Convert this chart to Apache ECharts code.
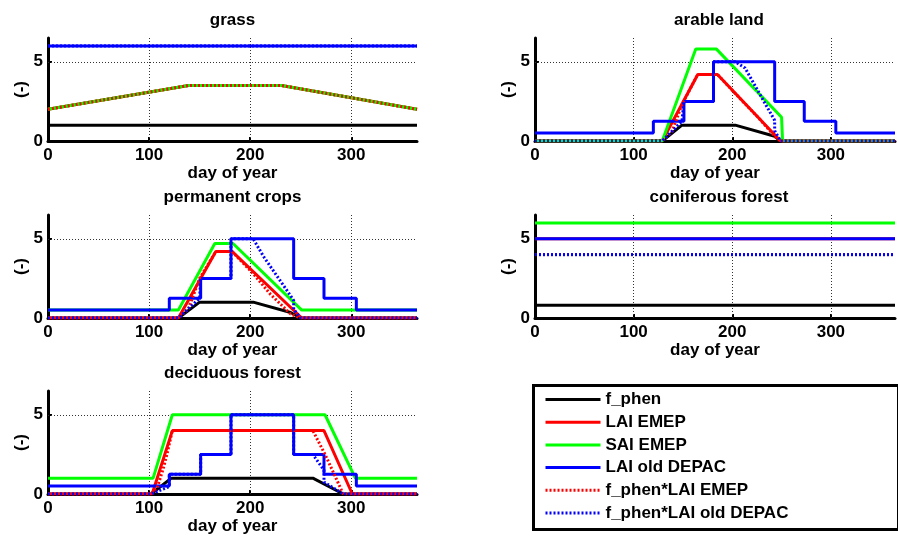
<!DOCTYPE html>
<html>
<head>
<meta charset="utf-8">
<title>phenology per land use</title>
<script src="https://cdn.jsdelivr.net/npm/echarts@6.0.0/dist/echarts.min.js"></script>
<style>
  html, body { margin: 0; padding: 0; background: #fff; }
  #chart { width: 898px; height: 536px; }
</style>
</head>
<body>
<div id="chart"></div>
<script>
// tick values shared by all panels
const xTicks = [0, 100, 200, 300];
const yTicks = [0, 5];

// grass: [day, value]
const grassFPhen = [[0, 1], [365, 1]];
const grassLaiEmep = [[0, 2], [139, 3.5], [231, 3.5], [365, 2]];
const grassSaiEmep = [[0, 2], [139, 3.5], [231, 3.5], [365, 2]];
const grassLaiDepac = [[0, 6], [365, 6]];
const grassFLaiEmep = [[0, 2], [139, 3.5], [231, 3.5], [365, 2]];
const grassFLaiDepac = [[0, 6], [365, 6]];

// arable land
const arableFPhen = [[0, 0], [129, 0], [149, 1], [203, 1], [243, 0.3], [249, 0], [365, 0]];
const arableLaiEmep = [[0, 0], [129, 0], [165, 4.2], [185, 4.2], [249, 0], [365, 0]];
const arableSaiEmep = [[0, 0], [129, 0], [163, 5.8], [184, 5.8], [250, 1.5], [251, 0], [365, 0]];
const arableLaiDepac = [[0, 0.5], [120, 0.5], [120, 1.25], [151, 1.25], [151, 2.5], [181, 2.5], [181, 5],
  [243, 5], [243, 2.5], [273, 2.5], [273, 1.25], [305, 1.25], [305, 0.5], [365, 0.5]];
const arableFLaiEmep = [[0, 0], [129, 0], [139, 0.6], [149, 2.3], [165, 4.2], [185, 4.2], [203, 3.0],
  [226, 1.5], [243, 0.3], [249, 0], [365, 0]];
const arableFLaiDepac = [[0, 0], [129, 0], [149, 1.25], [151, 1.25], [151, 2.5], [181, 2.5], [181, 5],
  [203, 5], [213, 4.6], [243, 1.3], [243, 0.65], [249, 0], [365, 0]];

// permanent crops
const permFPhen = [[0, 0], [129, 0], [150, 1], [203, 1], [240, 0.35], [250, 0], [365, 0]];
const permLaiEmep = [[0, 0], [129, 0], [166, 4.2], [182, 4.2], [251, 0], [365, 0]];
const permSaiEmep = [[0, 0.5], [129, 0.5], [165, 4.7], [183, 4.7], [251, 0.5], [365, 0.5]];
const permLaiDepac = [[0, 0.5], [120, 0.5], [120, 1.25], [151, 1.25], [151, 2.5], [181, 2.5], [181, 5],
  [243, 5], [243, 2.5], [273, 2.5], [273, 1.25], [305, 1.25], [305, 0.5], [365, 0.5]];
const permFLaiEmep = [[0, 0], [129, 0], [139, 0.6], [150, 2.5], [166, 4.2], [182, 4.2], [203, 2.8],
  [220, 1.5], [240, 0.25], [250, 0], [365, 0]];
const permFLaiDepac = [[0, 0], [129, 0], [150, 1.25], [151, 1.25], [151, 2.5], [181, 2.5], [181, 5],
  [203, 5], [213, 3.9], [240, 1.4], [243, 1.1], [243, 0.55], [250, 0], [365, 0]];

// coniferous forest
const conifFPhen = [[0, 0.8], [365, 0.8]];
const conifLaiEmep = [[0, 5], [365, 5]];
const conifSaiEmep = [[0, 6], [365, 6]];
const conifLaiDepac = [[0, 5], [365, 5]];
const conifFLaiEmep = [[0, 4], [365, 4]];
const conifFLaiDepac = [[0, 4], [365, 4]];

// deciduous forest
const decidFPhen = [[0, 0], [102, 0], [122, 1], [262, 1], [292, 0], [365, 0]];
const decidLaiEmep = [[0, 0], [103, 0], [123, 4], [273, 4], [301, 0], [365, 0]];
const decidSaiEmep = [[0, 1], [104, 1], [123, 5], [274, 5], [304, 1], [365, 1]];
const decidLaiDepac = [[0, 0.5], [120, 0.5], [120, 1.25], [151, 1.25], [151, 2.5], [181, 2.5], [181, 5],
  [243, 5], [243, 2.5], [273, 2.5], [273, 1.25], [305, 1.25], [305, 0.5], [365, 0.5]];
const decidFLaiEmep = [[0, 0], [102, 0], [108, 0.4], [114, 1.6], [118, 2.6], [123, 4], [262, 4],
  [274, 2.5], [282, 1.4], [292, 0], [365, 0]];
const decidFLaiDepac = [[0, 0], [102, 0], [120, 0.47], [120, 1.2], [122, 1.25], [151, 1.25], [151, 2.5],
  [181, 2.5], [181, 5], [243, 5], [243, 2.5], [262, 2.5], [273, 1.5], [273, 0.75], [292, 0], [365, 0]];

const seriesNames = ['f_phen', 'LAI EMEP', 'SAI EMEP', 'LAI old DEPAC', 'f_phen*LAI EMEP', 'f_phen*LAI old DEPAC'];
const seriesColors = ['#000000', '#ff0000', '#00ff00', '#0000ff', '#ff0000', '#0000ff'];
const seriesDash = ['solid', 'solid', 'solid', 'solid', [2, 2], [2, 2]];

const panels = [
  {title: 'grass', left: 48, top: 38, width: 369,
    data: [grassFPhen, grassLaiEmep, grassSaiEmep, grassLaiDepac, grassFLaiEmep, grassFLaiDepac]},
  {title: 'arable land', left: 535, top: 38, width: 368,
    data: [arableFPhen, arableLaiEmep, arableSaiEmep, arableLaiDepac, arableFLaiEmep, arableFLaiDepac]},
  {title: 'permanent crops', left: 48, top: 215, width: 369,
    data: [permFPhen, permLaiEmep, permSaiEmep, permLaiDepac, permFLaiEmep, permFLaiDepac]},
  {title: 'coniferous forest', left: 535, top: 215, width: 368,
    data: [conifFPhen, conifLaiEmep, conifSaiEmep, conifLaiDepac, conifFLaiEmep, conifFLaiDepac]},
  {title: 'deciduous forest', left: 48, top: 391, width: 369,
    data: [decidFPhen, decidLaiEmep, decidSaiEmep, decidLaiDepac, decidFLaiEmep, decidFLaiDepac]}
];

const FONT = '"Liberation Sans", Arial, Helvetica, sans-serif';
const PLOT_H = 103;

const titles = [], grids = [], xAxes = [], yAxes = [], series = [];

panels.forEach((p, i) => {
  titles.push({
    text: p.title, left: p.left + p.width / 2, top: p.top - 26, textAlign: 'center', padding: 0,
    textStyle: {fontFamily: FONT, fontSize: 17, fontWeight: 'bold', color: '#000'}
  });
  grids.push({left: p.left, top: p.top, width: p.width, height: PLOT_H});
  xAxes.push({
    type: 'value', gridIndex: i, min: 0, max: 365,
    name: 'day of year', nameLocation: 'middle', nameGap: 24,
    nameTextStyle: {fontFamily: FONT, fontSize: 17, fontWeight: 'bold', color: '#000'},
    axisLine: {show: true, lineStyle: {color: '#000', width: 3}},
    axisTick: {show: true, inside: true, length: 4, customValues: xTicks.slice(1),
      lineStyle: {color: '#000', width: 2}},
    axisLabel: {
      margin: 6, fontFamily: FONT, fontSize: 17, fontWeight: 'bold', color: '#000',
      formatter: v => (xTicks.includes(v) ? String(v) : '')
    },
    splitLine: {show: false}
  });
  yAxes.push({
    type: 'value', gridIndex: i, min: 0, max: 6.5,
    name: '(-)', nameLocation: 'middle', nameGap: 18, nameRotate: 90,
    nameTextStyle: {fontFamily: FONT, fontSize: 17, fontWeight: 'bold', color: '#000'},
    axisLine: {show: true, onZero: false, lineStyle: {color: '#000', width: 3}},
    axisTick: {show: true, inside: true, length: 4, customValues: yTicks.slice(1),
      lineStyle: {color: '#000', width: 2}},
    axisLabel: {
      margin: 5, fontFamily: FONT, fontSize: 17, fontWeight: 'bold', color: '#000',
      formatter: v => (yTicks.includes(v) ? String(v) : '')
    },
    splitLine: {show: false}
  });
  p.data.forEach((d, k) => {
    const s = {
      name: seriesNames[k], type: 'line', xAxisIndex: i, yAxisIndex: i,
      data: d, symbol: 'none', showSymbol: false, animation: false,
      lineStyle: {color: seriesColors[k], width: 3, type: seriesDash[k]},
      itemStyle: {color: seriesColors[k]}
    };
    if (k === 0) {
      // dotted grid lines at the labelled ticks
      s.markLine = {
        silent: true, symbol: ['none', 'none'], label: {show: false}, animation: false, z: 1,
        lineStyle: {color: '#333', width: 1, type: [1, 2]},
        data: xTicks.slice(1).map(v => ({xAxis: v})).concat(yTicks.slice(1).map(v => ({yAxis: v})))
      };
    }
    series.push(s);
  });
});

const chart = echarts.init(document.getElementById('chart'), null, {renderer: 'canvas'});
chart.setOption({
  backgroundColor: '#fff',
  animation: false,
  title: titles,
  grid: grids,
  xAxis: xAxes,
  yAxis: yAxes,
  legend: {
    data: seriesNames, orient: 'vertical', left: 544, top: 391, padding: 0,
    itemWidth: 55, itemHeight: 17, itemGap: 5.7, z: 10,
    itemStyle: {opacity: 0},
    lineStyle: {width: 3},
    textStyle: {fontFamily: FONT, fontSize: 17, fontWeight: 'bold', color: '#000', lineHeight: 17}
  },
  graphic: [{
    type: 'rect', left: 532, top: 384, z: 5,
    shape: {width: 365, height: 144},
    style: {fill: '#fff', stroke: '#000', lineWidth: 3}
  }],
  series: series
});
</script>
</body>
</html>
